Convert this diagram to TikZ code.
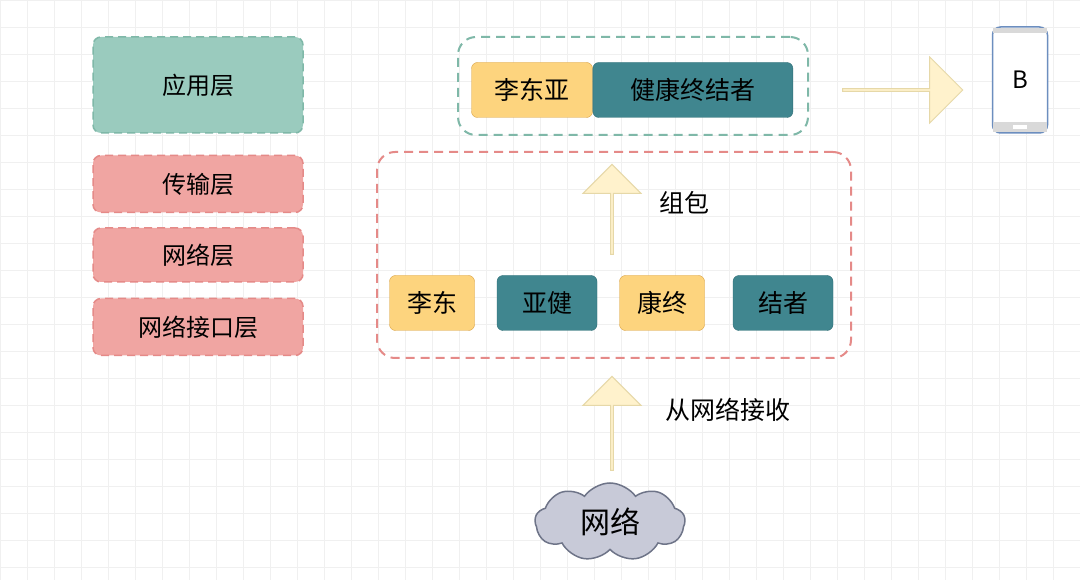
\documentclass[tikz,border=0pt]{standalone}
\usepackage{fontspec}
\setmainfont{Noto Sans CJK SC}
\usetikzlibrary{shapes.symbols, shapes.arrows, positioning}
\definecolor{tealL}{HTML}{9ACBBE}
\definecolor{tealB}{HTML}{7FB8A8}
\definecolor{pinkL}{HTML}{F0A5A2}
\definecolor{pinkB}{HTML}{E58A88}
\definecolor{yelF}{HTML}{FDD47E}
\definecolor{yelB}{HTML}{D9A040}
\definecolor{tealD}{HTML}{40868F}
\definecolor{tealDB}{HTML}{2F6E76}
\definecolor{arrF}{HTML}{FFF2CC}
\definecolor{arrB}{HTML}{E6D8A8}
\definecolor{phoneB}{HTML}{6C8EBF}
\definecolor{cloudF}{HTML}{C8CAD8}
\definecolor{cloudB}{HTML}{6E7488}
\tikzset{
  layer/.style={draw=#1, dashed, line width=1.5pt, dash pattern=on 8pt off 5pt, rounded corners=8pt, minimum width=210pt, font=\fontsize{24}{28}\selectfont},
  chunk/.style={draw=#1, rounded corners=6pt, minimum height=55pt, inner sep=2pt, font=\fontsize{25}{29}\selectfont},
  group/.style={draw=#1, line width=2pt, dash pattern=on 9pt off 6pt, rounded corners=18pt},
  fat/.style={draw=arrB, fill=arrF, line width=1pt, single arrow, single arrow head extend=11pt, minimum height=#1, minimum width=58pt, inner sep=0pt, shape border rotate=90}
}
\begin{document}
\begin{tikzpicture}[x=1pt, y=-1pt]
    \useasboundingbox (0,0) rectangle (1080,580);
    \fill[white] (0,0) rectangle (1080,580);
    \draw[black!6, step=27pt] (0,0) grid (1080,580);

    % layers
    \node [layer=tealB, fill=tealL, minimum height=96pt] (app) at (198,85) {应用层};
    \node [layer=pinkB, fill=pinkL, minimum height=57pt] (trans) at (198,184) {传输层};
    \node [layer=pinkB, fill=pinkL, minimum height=54pt] (net) at (198,255) {网络层};
    \node [layer=pinkB, fill=pinkL, minimum height=57pt] (link) at (198,327) {网络接口层};

    % assembled message
    \node [group=tealB, minimum width=350pt, minimum height=98pt] (top) at (633,86) {};
    \node [chunk=yelB, fill=yelF, minimum width=121pt] (m1) at (532,90) {李东亚};
    \node [chunk=tealDB, fill=tealD, minimum width=200pt, right=0pt of m1] (m2) {健康终结者};

    % fragments
    \node [group=pinkB, minimum width=474pt, minimum height=206pt] (bottom) at (614,255) {};
    \node [chunk=yelB, fill=yelF, minimum width=85pt] (p1) at (432,303) {李东};
    \node [chunk=tealDB, fill=tealD, minimum width=100pt] (p2) at (547,303) {亚健};
    \node [chunk=yelB, fill=yelF, minimum width=85pt] (p3) at (662,303) {康终};
    \node [chunk=tealDB, fill=tealD, minimum width=100pt] (p4) at (783,303) {结者};

    % arrows
    \node [fat=90pt] (pack) at (612,210) {};
    \node [font=\fontsize{25}{29}\selectfont] (packlbl) at (684,203) {组包};
    \node [fat=94pt] (recv) at (612,424) {};
    \node [font=\fontsize{25}{29}\selectfont] (recvlbl) at (728,410) {从网络接收};
    \node [fat=120pt, minimum width=66pt, shape border rotate=0] (send) at (902,90) {};

    % phone B
    \node [draw=phoneB, line width=1.5pt, fill=white, rounded corners=8pt, minimum width=55pt, minimum height=106pt, font=\fontsize{24}{28}\selectfont] (phone) at (1020,80) {B};
    \fill [black!15] ([xshift=1pt, yshift=-2pt]phone.north west) rectangle ([xshift=-1pt, yshift=-7pt]phone.north east);
    \fill [black!15] ([xshift=1pt, yshift=2pt]phone.south west) rectangle ([xshift=-1pt, yshift=12pt]phone.south east);
    \fill [white] ([xshift=-7pt, yshift=5pt]phone.south) rectangle ([xshift=7pt, yshift=9pt]phone.south);

    % network cloud
    \node [cloud, cloud puffs=9, cloud puff arc=110, aspect=2, draw=cloudB, line width=1.5pt, fill=cloudF, minimum width=150pt, minimum height=78pt, font=\fontsize{30}{34}\selectfont] (cloud) at (610,522) {网络};
\end{tikzpicture}
\end{document}
